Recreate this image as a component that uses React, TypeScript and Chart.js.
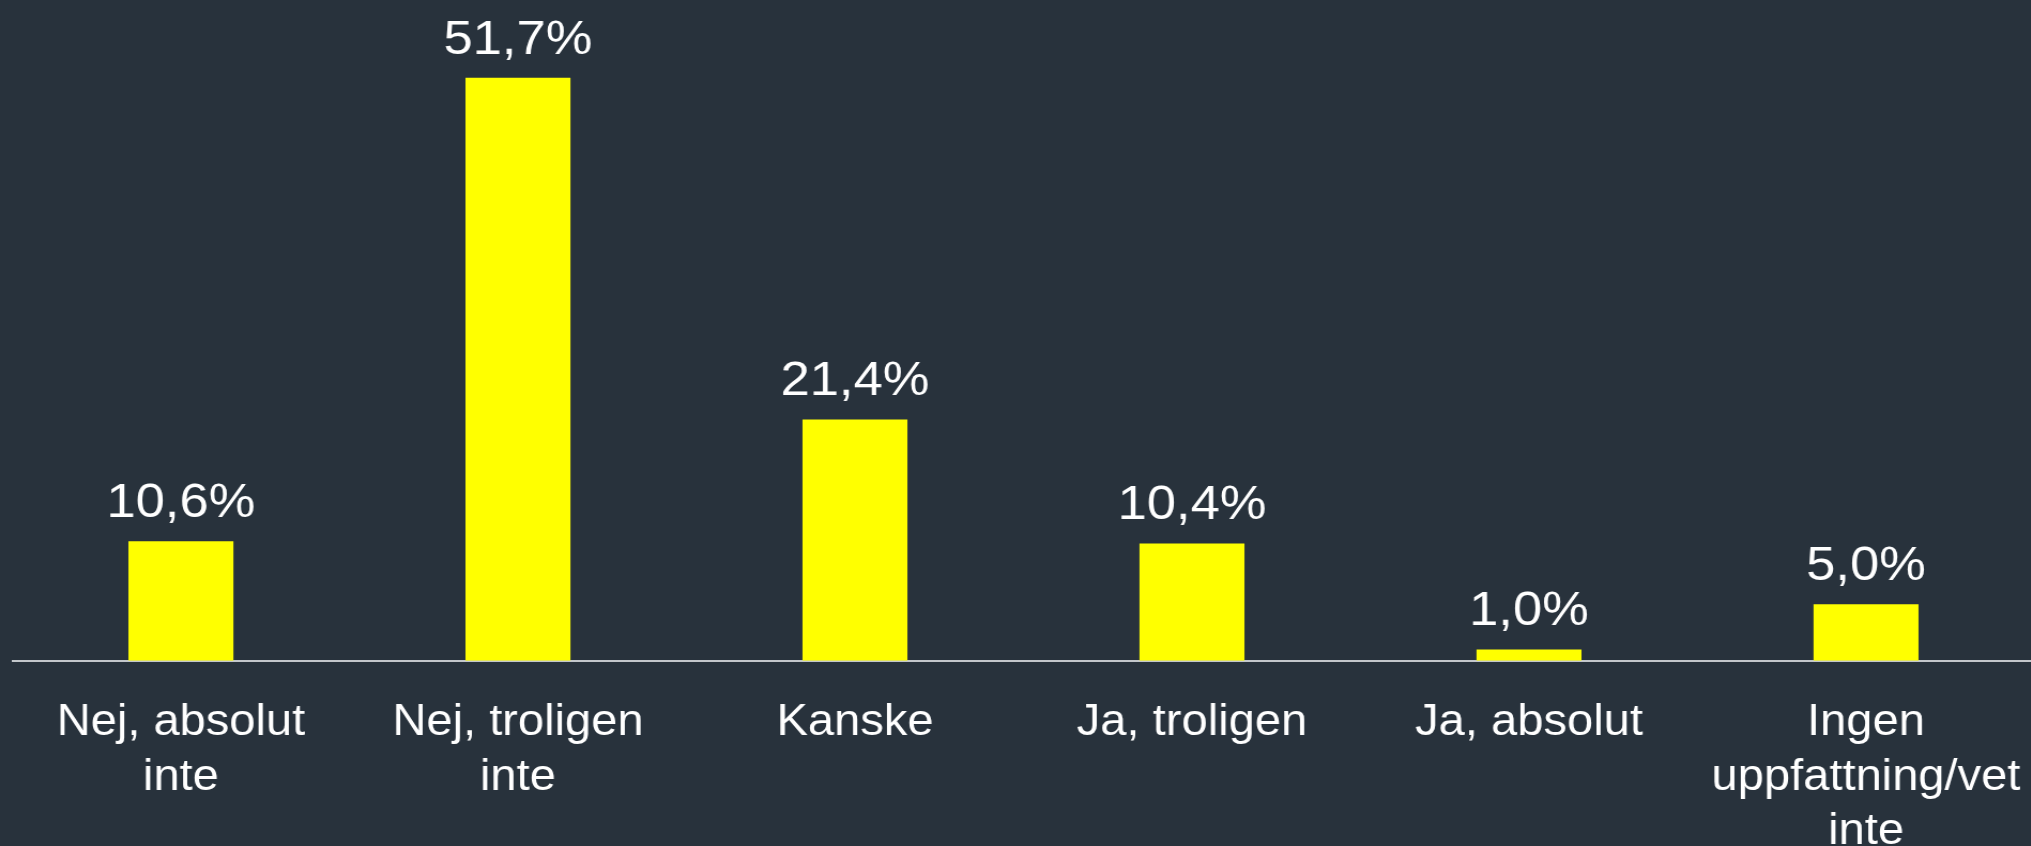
import React, { useEffect, useRef } from "react";
import { Chart, registerables } from "chart.js";

Chart.register(...registerables);

const categories: (string | string[])[] = [
  ["Nej, absolut", "inte"],
  ["Nej, troligen", "inte"],
  "Kanske",
  "Ja, troligen",
  "Ja, absolut",
  ["Ingen", "uppfattning/vet", "inte"],
];
const values: number[] = [10.6, 51.7, 21.4, 10.4, 1.0, 5.0];
const valueLabels: string[] = ["10,6%", "51,7%", "21,4%", "10,4%", "1,0%", "5,0%"];

const BG = "#28323c";
const BAR = "#ffff00";
const FONT = "'Liberation Sans', Arial, Helvetica, sans-serif";
const STRETCH = 1.07;

const dataLabelPlugin = {
  id: "dataLabels",
  afterDatasetsDraw(chart: any) {
    const ctx = chart.ctx;
    const meta = chart.getDatasetMeta(0);
    ctx.save();
    ctx.fillStyle = "#ffffff";
    ctx.font = `49px ${FONT}`;
    ctx.textAlign = "center";
    ctx.textBaseline = "alphabetic";
    meta.data.forEach((el: any, i: number) => {
      ctx.fillText(valueLabels[i], el.x, el.y - 24);
    });
    ctx.restore();
  },
};

export default function App() {
  const ref = useRef<HTMLCanvasElement>(null);
  useEffect(() => {
    if (!ref.current) return;
    const chart = new Chart(ref.current, {
      type: "bar",
      data: {
        labels: categories as any,
        datasets: [
          {
            data: values,
            backgroundColor: BAR,
            borderWidth: 0,
            categoryPercentage: 1,
            barPercentage: 0.3115,
          },
        ],
      },
      options: {
        responsive: false,
        animation: false,
        devicePixelRatio: 1,
        layout: { padding: { left: 11.6, right: 0.6, top: 0, bottom: 0 } },
        plugins: {
          legend: { display: false },
          tooltip: { enabled: false },
        },
        scales: {
          x: {
            offset: true,
            grid: { display: false, drawTicks: false },
            border: { display: true, color: "#c3c7cb", width: 2 },
            ticks: {
              color: "#ffffff",
              font: { family: FONT, size: 44, lineHeight: 54.5 / 44 },
              padding: 35,
              maxRotation: 0,
              minRotation: 0,
              autoSkip: false,
            },
            afterFit: (scale: any) => {
              scale.height = 185.3;
              scale.paddingLeft = 0;
              scale.paddingRight = 0;
            },
          },
          y: {
            display: false,
            min: 0,
            max: 58.6,
          },
        },
      },
      plugins: [dataLabelPlugin],
    });
    return () => chart.destroy();
  }, []);

  return (
    <div
      style={{
        position: "absolute",
        left: 0,
        top: 0,
        width: 2031,
        height: 846,
        overflow: "hidden",
        background: BG,
      }}
    >
      <canvas
        ref={ref}
        width={1902}
        height={846}
        style={{
          display: "block",
          width: 1902,
          height: 846,
          transform: `scaleX(${STRETCH})`,
          transformOrigin: "0 0",
        }}
      />
    </div>
  );
}
